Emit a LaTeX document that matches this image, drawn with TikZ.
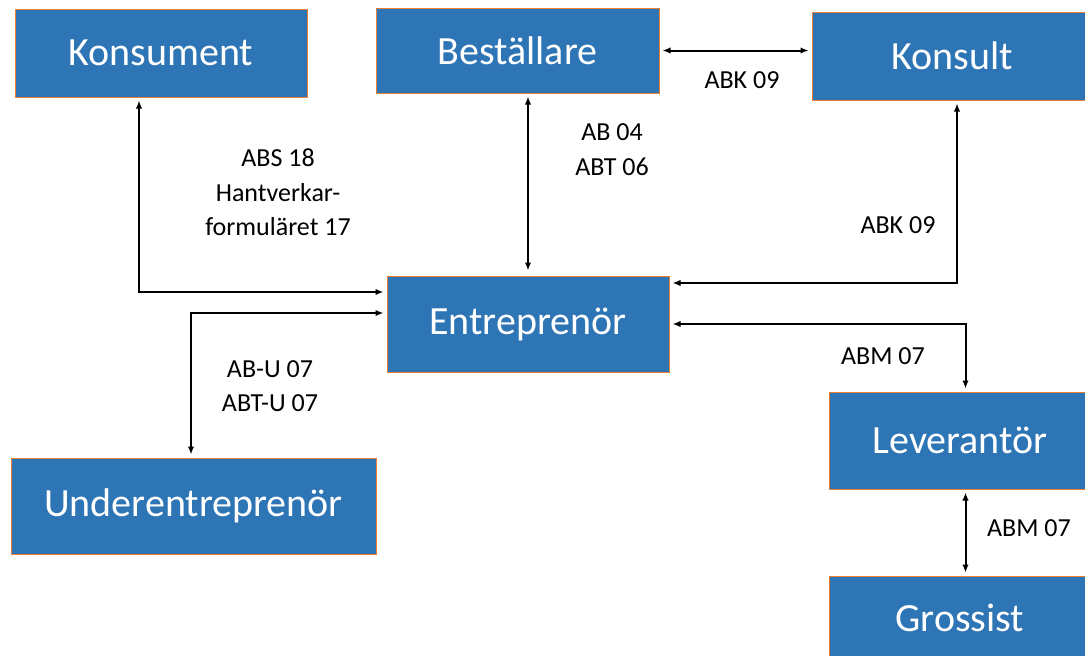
\documentclass[tikz,border=0pt]{standalone}
\usepackage{fontspec}
\setmainfont{Carlito}
\usetikzlibrary{arrows.meta}
\definecolor{boxblue}{RGB}{46,117,182}
\definecolor{boxedge}{RGB}{237,125,49}

\begin{document}
\begin{tikzpicture}[x=1pt,y=-1pt,
>={Latex[length=8pt,width=6.5pt]},
box/.style={rectangle,draw=boxedge,line width=1pt,fill=boxblue,text=white,inner sep=0pt,font=\fontsize{40}{46}\selectfont},
lbl/.style={align=center,inner sep=0pt,font=\fontsize{26}{34.5}\selectfont},
link/.style={<->,line width=2pt,shorten <=3pt,shorten >=3pt}]
\useasboundingbox (0,0) rectangle (1085,656);
    % parties
    \node[box,minimum width=292,minimum height=88] (Konsument) at (161,53) {Konsument};
    \node[box,minimum width=283,minimum height=85] (Bestallare) at (517.5,50.5) {Beställare};
    \node[box,minimum width=280,minimum height=88] (Konsult) at (952,56) {Konsult};
    \node[box,minimum width=282,minimum height=96] (Entreprenor) at (528,324) {Entreprenör};
    \node[box,minimum width=365,minimum height=96] (Underentreprenor) at (193.5,506) {Underentreprenör};
    \node[box,minimum width=262,minimum height=97] (Leverantor) at (960,440.5) {Leverantör};
    \node[box,minimum width=262,minimum height=84] (Grossist) at (960,618) {Grossist};

    % contracts
    \draw[link] ([xshift=-22pt]Konsument.south) |- ([yshift=32pt]Entreprenor.west);
    \draw[link] ([xshift=-2.5pt]Underentreprenor.north) |- ([yshift=11pt]Entreprenor.west);
    \draw[link,shorten >=5pt] (Entreprenor.north |- Bestallare.south) -- (Entreprenor.north);
    \draw[link] (Bestallare.east) -- (Bestallare.east -| Konsult.west);
    \draw[link] ([xshift=5pt]Konsult.south) |- ([yshift=41pt]Entreprenor.east);
    \draw[link] (Entreprenor.east) -| ([xshift=5.5pt]Leverantor.north);
    \draw[link] ([xshift=5.5pt]Leverantor.south) -- ([xshift=5.5pt]Grossist.north);

    % labels
    \node[lbl] (lblABK) at (742,80) {ABK 09};
    \node[lbl] (lblAB) at (612,149.5) {AB 04\\ABT 06};
    \node[lbl] (lblABS) at (278,192.5) {ABS 18\\Hantverkar-\\formuläret 17};
    \node[lbl] (lblABKkonsult) at (898,225) {ABK 09};
    \node[lbl] (lblABU) at (270,386) {AB-U 07\\ABT-U 07};
    \node[lbl] (lblABM) at (883,356) {ABM 07};
    \node[lbl] (lblABMgross) at (1029,528) {ABM 07};
\end{tikzpicture}
\end{document}
